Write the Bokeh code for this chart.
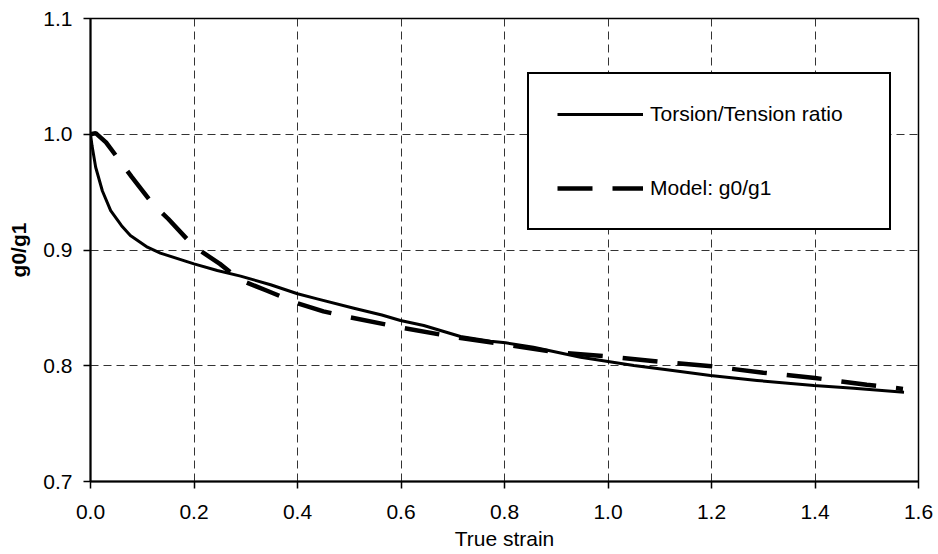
from bokeh.plotting import figure
from bokeh.models import Range1d, FixedTicker, NumeralTickFormatter, Legend, LegendItem
from bokeh.embed import file_html
from bokeh.resources import INLINE

# Torsion/Tension ratio (solid)
strain_ratio = [0.0, 0.003, 0.01, 0.023, 0.039, 0.06, 0.077, 0.11, 0.135, 0.2, 0.245, 0.29,
                0.348, 0.40, 0.438, 0.509, 0.563, 0.599, 0.644, 0.715, 0.773, 0.802, 0.856,
                0.947, 1.05, 1.114, 1.198, 1.288, 1.398, 1.475, 1.572]
ratio = [1.0, 0.99, 0.9715, 0.951, 0.934, 0.921, 0.9125, 0.9024, 0.8973, 0.888, 0.8823, 0.8774,
         0.870, 0.8622, 0.8578, 0.8497, 0.8438, 0.8391, 0.8348, 0.8253, 0.8212, 0.8198, 0.816,
         0.8074, 0.8002, 0.7965, 0.7916, 0.7873, 0.7829, 0.7806, 0.7772]

# Model: g0/g1 (dashed)
strain_model = [0.0, 0.01, 0.03, 0.08, 0.12, 0.15, 0.2, 0.25, 0.29, 0.34, 0.40, 0.45, 0.5, 0.6,
                0.7, 0.8, 0.9, 1.0, 1.1, 1.2, 1.3, 1.4, 1.5, 1.57]
model = [1.0, 1.001, 0.993, 0.963, 0.940, 0.927, 0.903, 0.888, 0.874, 0.865, 0.854, 0.847, 0.842,
         0.833, 0.825, 0.8185, 0.8115, 0.808, 0.8035, 0.7995, 0.794, 0.7894, 0.7836, 0.780]

x_ticks = [0.0, 0.2, 0.4, 0.6, 0.8, 1.0, 1.2, 1.4, 1.6]
y_ticks = [0.7, 0.8, 0.9, 1.0, 1.1]

FONT = "Liberation Sans"
FS = "21px"

p = figure(width=938, height=554, output_backend="svg", toolbar_location=None,
           x_range=Range1d(0, 1.6), y_range=Range1d(0.7, 1.1),
           min_border_left=90, min_border_right=20, min_border_top=18, min_border_bottom=73)
p.background_fill_color = "white"
p.border_fill_color = "white"
p.outline_line_color = "black"
p.outline_line_width = 1.5
p.outline_line_alpha = 1.0

for ax in (p.xaxis[0], p.yaxis[0]):
    ax.axis_line_color = "black"
    ax.axis_line_width = 2
    ax.major_tick_line_color = "black"
    ax.major_tick_line_width = 1.5
    ax.major_tick_out = 7
    ax.major_tick_in = 0
    ax.minor_tick_line_color = None
    ax.major_label_text_font = FONT
    ax.major_label_text_font_size = FS
    ax.major_label_text_color = "black"
    ax.axis_label_text_font = FONT
    ax.axis_label_text_font_size = FS
    ax.axis_label_text_color = "black"
    ax.formatter = NumeralTickFormatter(format="0.0")

p.xaxis[0].ticker = FixedTicker(ticks=x_ticks)
p.yaxis[0].ticker = FixedTicker(ticks=y_ticks)
p.xaxis[0].axis_label = "True strain"
p.xaxis[0].axis_label_text_font_style = "normal"
p.xaxis[0].major_label_standoff = 16
p.xaxis[0].axis_label_standoff = 5
p.yaxis[0].axis_label = "g0/g1"
p.yaxis[0].axis_label_text_font_style = "bold"
p.yaxis[0].major_label_standoff = 11
p.yaxis[0].axis_label_standoff = 10

for g in (p.xgrid[0], p.ygrid[0]):
    g.grid_line_color = "#333333"
    g.grid_line_width = 1
    g.grid_line_dash = "8 5"

r_ratio = p.line(strain_ratio, ratio, line_color="black", line_width=3, line_join="round")
r_model = p.line(strain_model, model, line_color="black", line_width=4.5, line_dash="35 20")

legend = Legend(items=[LegendItem(label="Torsion/Tension ratio", renderers=[r_ratio]),
                       LegendItem(label="Model: g0/g1", renderers=[r_model])],
                location=(437, 251), orientation="vertical",
                padding=28, spacing=50, glyph_width=86, glyph_height=20,
                label_standoff=7, label_height=20, label_width=211,
                label_text_font=FONT, label_text_font_size=FS, label_text_color="black",
                border_line_color="black", border_line_width=2, border_line_alpha=1.0,
                background_fill_color="white", background_fill_alpha=1.0, margin=0)
p.add_layout(legend, "center")

open("out.html", "w").write(file_html(p, INLINE))
